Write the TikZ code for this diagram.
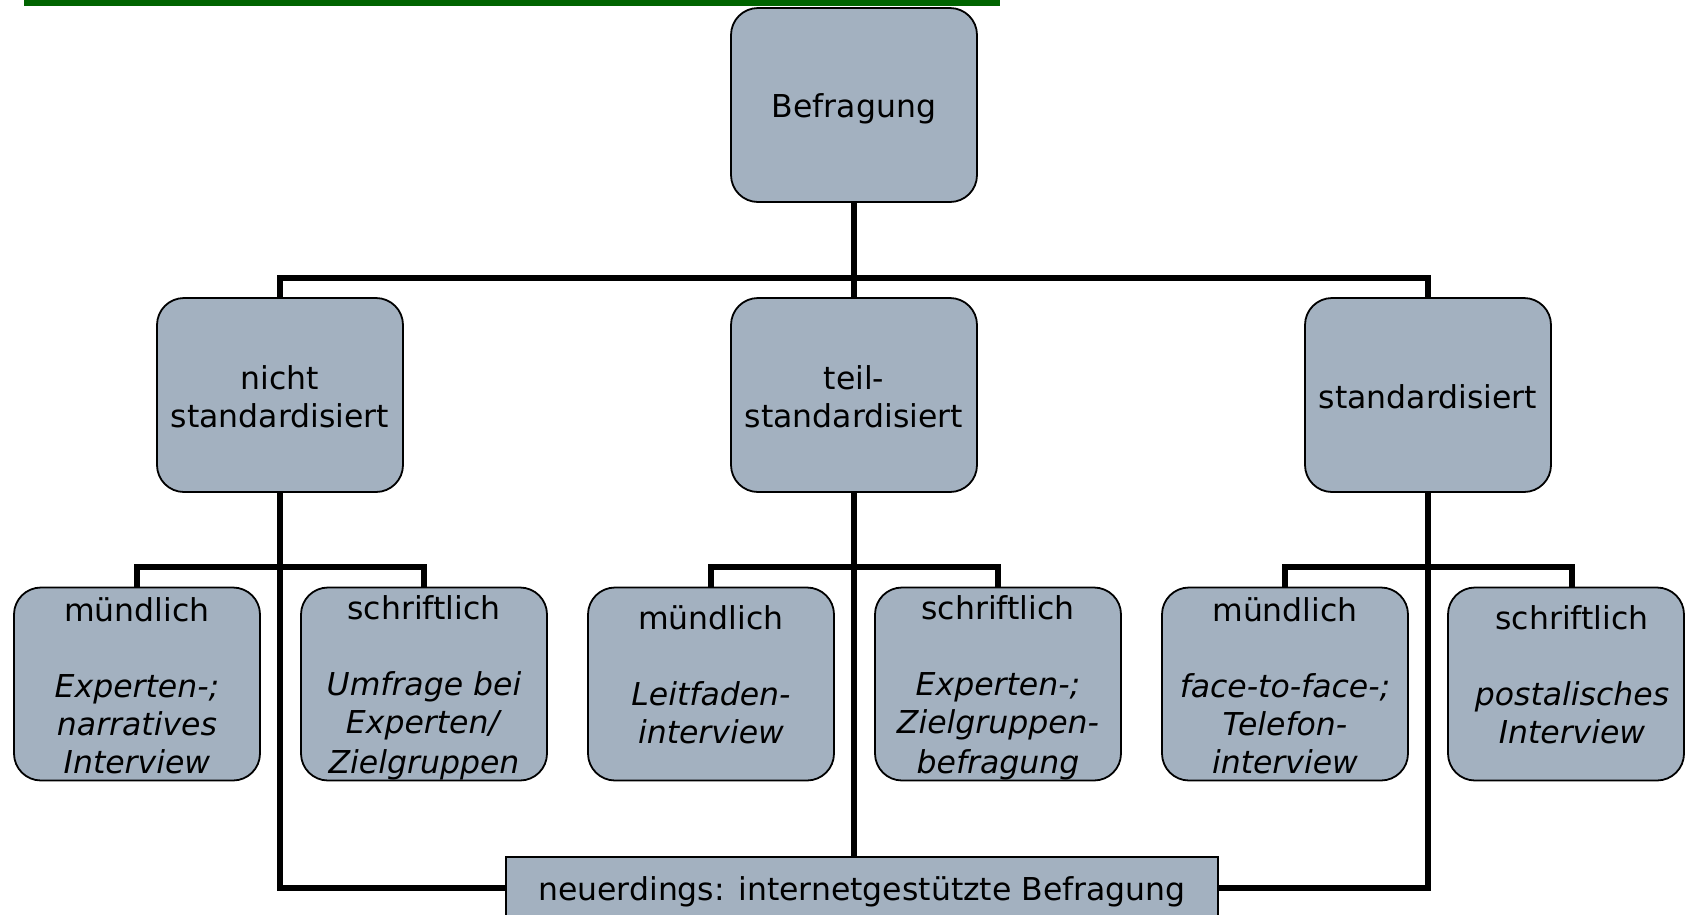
\documentclass[tikz,border=0pt]{standalone}
\usepackage{fontspec}
\setmainfont{DejaVu Sans}
\definecolor{boxgray}{HTML}{A3B1C0}
\definecolor{bargreen}{HTML}{006400}
\usetikzlibrary{positioning}
% struts: a bit more room above than below, as in the slides
\newcommand{\hi}{\rule[-5.9pt]{0pt}{38pt}}
\newcommand{\lowgap}{\rule[-27.6pt]{0pt}{0pt}}
\newcommand{\pad}{\hspace*{12pt}}
\tikzset{%
    base/.style = {
        draw=black,
        line width=1.8pt,
        fill=boxgray,
        font=\fontsize{31.5}{38}\selectfont,
        align=center,
        inner sep=0pt,
    },
    levelbox/.style = {
        base,
        rounded corners=27pt,
        minimum width=246pt,
        minimum height=194pt,
    },
    typebox/.style = {
        base,
        rounded corners=27pt,
        minimum width=246pt,
        minimum height=193pt,
    },
    widebox/.style = {
        base,
        rectangle,
        minimum width=712pt,
        minimum height=62pt,
    },
    conn/.style = {
        line width=5.5pt,
    },
}

\begin{document}
\begin{tikzpicture}[x=1pt,y=-1pt]
    \useasboundingbox (0,0) rectangle (1686,914);
    \fill [bargreen] (24,0) rectangle (1000,6);

    % levels
    \node [levelbox] (befragung) at (854,105) {\hi Befragung\hi};
    \node [levelbox] (nichtstd) at (280,395) {\hi nicht\\standardisiert\hi};
    \node [levelbox] (teilstd) at (854,395) {\hi teil-\\standardisiert\hi};
    \node [levelbox] (std) at (1428,395) {\hi standardisiert\hi};

    % types
    \node [typebox] (ns-m) at (137,684) {\hi mündlich\\[38pt]\textit{Experten-;}\\\textit{narratives}\\\textit{Interview}\hi};
    \node [typebox] (ns-s) at (424,684) {\hi schriftlich\\[38pt]\textit{Umfrage bei}\\\textit{Experten/}\\\textit{Zielgruppen}\hi};
    \node [typebox] (ts-m) at (711,684) {\hi mündlich\\[38pt]\textit{Leitfaden-}\\\textit{interview}\lowgap};
    \node [typebox] (ts-s) at (998,684) {\hi schriftlich\\[38pt]\textit{Experten-;}\\\textit{Zielgruppen-}\\\textit{befragung}\hi};
    \node [typebox] (st-m) at (1285,684) {\hi mündlich\\[38pt]\textit{face-to-face-;}\\\textit{Telefon-}\\\textit{interview}\hi};
    \node [typebox, minimum width=236pt] (st-s) at (1566,684) {\hi\pad schriftlich\\[38pt]\pad\textit{postalisches}\\\pad\textit{Interview}\lowgap};

    \node [widebox] (neu) at (862,888) {\hi neuerdings: internetgestützte Befragung\hi};

    % connectors
    \coordinate (bus) at (854,278);
    \coordinate (nsbus) at (280,567);
    \coordinate (tsbus) at (854,567);
    \coordinate (stbus) at (1428,567);
    \draw [conn] (befragung.south) -- (teilstd.north);
    \draw [conn] (nichtstd.north) |- (bus) -| (std.north);
    \draw [conn] (ns-m.north) |- (nsbus) -| (ns-s.north);
    \draw [conn] (ts-m.north) |- (tsbus) -| (ts-s.north);
    \draw [conn] (st-m.north) |- (stbus) -| ([xshift=6pt]st-s.north);
    \draw [conn] (nichtstd.south) |- (neu.west);
    \draw [conn] (teilstd.south) -- (teilstd.south |- neu.north);
    \draw [conn] (std.south) |- (neu.east);
\end{tikzpicture}
\end{document}
